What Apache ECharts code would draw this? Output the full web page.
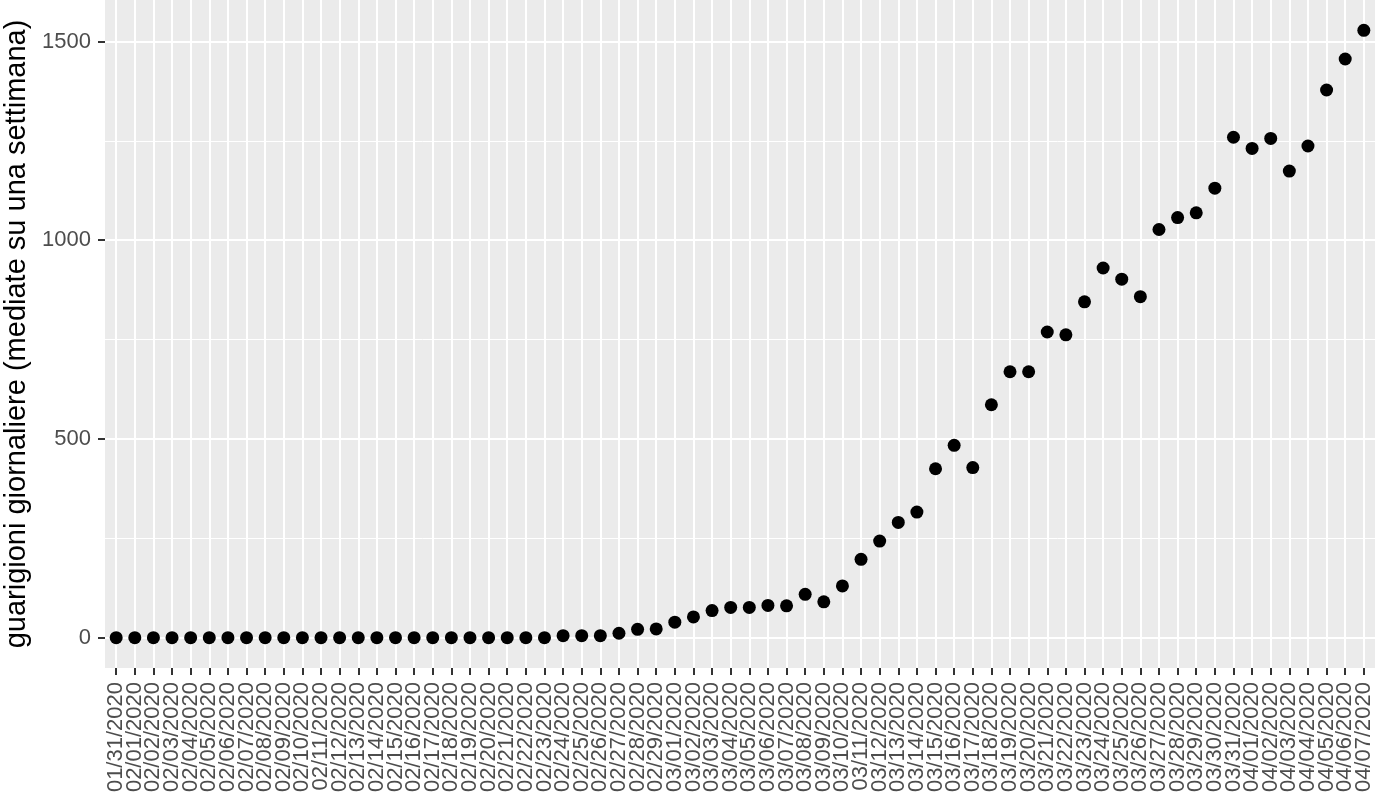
<!DOCTYPE html>
<html>
<head>
<meta charset="utf-8">
<script src="https://cdn.jsdelivr.net/npm/echarts@6/dist/echarts.min.js"></script>
<style>
html,body{margin:0;padding:0;background:#fff;}
#c{width:1386px;height:802px;}
</style>
</head>
<body>
<div id="c"></div>
<script>
const categories = [
"01/31/2020",
"02/01/2020","02/02/2020","02/03/2020","02/04/2020","02/05/2020","02/06/2020","02/07/2020",
"02/08/2020","02/09/2020","02/10/2020","02/11/2020","02/12/2020","02/13/2020","02/14/2020",
"02/15/2020","02/16/2020","02/17/2020","02/18/2020","02/19/2020","02/20/2020","02/21/2020",
"02/22/2020","02/23/2020","02/24/2020","02/25/2020","02/26/2020","02/27/2020","02/28/2020","02/29/2020",
"03/01/2020","03/02/2020","03/03/2020","03/04/2020","03/05/2020","03/06/2020","03/07/2020",
"03/08/2020","03/09/2020","03/10/2020","03/11/2020","03/12/2020","03/13/2020","03/14/2020",
"03/15/2020","03/16/2020","03/17/2020","03/18/2020","03/19/2020","03/20/2020","03/21/2020",
"03/22/2020","03/23/2020","03/24/2020","03/25/2020","03/26/2020","03/27/2020","03/28/2020",
"03/29/2020","03/30/2020","03/31/2020",
"04/01/2020","04/02/2020","04/03/2020","04/04/2020","04/05/2020","04/06/2020","04/07/2020"
];
const values = [
0,0,0,0,0,0,0,0,0,0,0,0,0,0,0,0,0,0,0,0,0,0,0,0,
5,5,5,11,21,22,39,52,68,76,76,81,80,109,90,130,197,243,290,316,
425,484,428,586,669,669,769,762,845,930,902,858,1027,1057,1069,1131,
1259,1231,1256,1174,1237,1378,1456,1528
];
const yMajorTicks = [0, 500, 1000, 1500];
const yMinorTicks = [250, 750, 1250];
const yTitle = "guarigioni giornaliere (mediate su una settimana)";

const n = categories.length;
const idx = categories.map((_, i) => i);
const evenIdx = idx.filter(i => i % 2 === 0);
const oddIdx = idx.filter(i => i % 2 === 1);
const yMaxData = Math.max.apply(null, values);
const yMinData = Math.min.apply(null, values);
const ySpan = yMaxData - yMinData;

const labelStyle = {
  rotate: 90,
  margin: 14,
  showMinLabel: true,
  showMaxLabel: true,
  hideOverlap: false,
  fontFamily: 'Liberation Sans, Arial, sans-serif',
  fontSize: 22,
  lineHeight: 15,
  color: '#4D4D4D',
  formatter: v => categories[Math.round(v)]
};

const chart = echarts.init(document.getElementById('c'), null, {renderer: 'canvas'});
chart.setOption({
  animation: false,
  backgroundColor: '#ffffff',
  grid: {
    left: 105, right: 11, top: 0, bottom: 134,
    containLabel: false,
    outerBoundsMode: 'none',
    show: true, backgroundColor: '#EBEBEB', borderWidth: 0
  },
  xAxis: [
    {
      type: 'value',
      position: 'bottom',
      min: -0.6, max: n - 1 + 0.6,
      axisLine: {show: false, onZero: false},
      axisTick: {show: true, customValues: idx, length: 7, lineStyle: {color: '#333333', width: 2}},
      axisLabel: Object.assign({customValues: evenIdx}, labelStyle),
      splitLine: {show: true, lineStyle: {color: '#ffffff', width: 2}},
      minorSplitLine: {show: false}
    },
    {
      type: 'value',
      position: 'bottom',
      offset: 0,
      min: -0.6, max: n - 1 + 0.6,
      axisLine: {show: false, onZero: false},
      axisTick: {show: false, customValues: oddIdx},
      axisLabel: Object.assign({customValues: oddIdx}, labelStyle),
      splitLine: {show: false}
    }
  ],
  yAxis: {
    type: 'value',
    min: yMinData - 0.05 * ySpan, max: yMaxData + 0.05 * ySpan,
    name: yTitle,
    nameLocation: 'middle',
    nameGap: 69,
    nameTextStyle: {fontFamily: 'Liberation Sans, Arial, sans-serif', fontSize: 29, color: '#000000'},
    axisLine: {show: false, onZero: false},
    axisTick: {show: true, customValues: yMajorTicks, length: 7, lineStyle: {color: '#333333', width: 2}},
    axisLabel: {
      customValues: yMajorTicks,
      margin: 14,
      showMinLabel: true,
      showMaxLabel: true,
      fontFamily: 'Liberation Sans, Arial, sans-serif',
      fontSize: 22,
      color: '#4D4D4D',
      formatter: v => String(v)
    },
    splitLine: {show: true, lineStyle: {color: '#ffffff', width: 2}}
  },
  series: [
    {
      type: 'line',
      xAxisIndex: 0,
      data: [],
      z: 1,
      silent: true,
      markLine: {
        silent: true,
        symbol: 'none',
        label: {show: false},
        lineStyle: {color: '#ffffff', width: 1, type: 'solid'},
        data: yMinorTicks.map(v => ({yAxis: v}))
      }
    },
    {
      type: 'scatter',
      xAxisIndex: 0,
      zlevel: 1,
      z: 3,
      symbol: 'circle',
      symbolSize: 13,
      itemStyle: {color: '#000000', opacity: 1},
      data: values.map((v, i) => [i, v])
    }
  ]
});
</script>
</body>
</html>
